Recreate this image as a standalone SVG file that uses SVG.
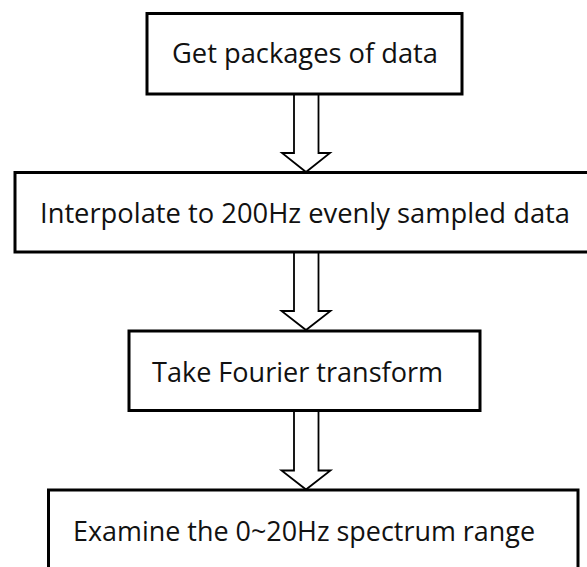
<svg xmlns="http://www.w3.org/2000/svg" width="587" height="567" viewBox="0 0 587 567">
<style>
.box{fill:#fff;stroke:#000;stroke-width:3}
.lbl{font-family:"Open Sans","Liberation Sans",sans-serif;font-size:28px;fill:#111}
.arr{fill:#fff;stroke:#000;stroke-width:1.8;stroke-linejoin:miter}
</style>
<rect width="587" height="567" fill="#fff"/>
<g id="connectors">
<path class="arr" d="M294,94 V153 H282 L306,172 L330,153 H318.5 V94"/>
<path class="arr" d="M294,252 V311 H281.5 L306,330 L330.5,311 H318.5 V252"/>
<path class="arr" d="M294,411 V470.5 H281.5 L306,489.5 L330.5,470.5 H318.5 V411"/>
</g>
<g id="n1">
<rect class="box" x="147" y="13.5" width="315" height="80.5"/>
<text class="lbl" x="172" y="63" textLength="266" lengthAdjust="spacingAndGlyphs">Get packages of data</text>
</g>
<g id="n2">
<rect class="box" x="15" y="172.5" width="580" height="79.5"/>
<text class="lbl" x="40" y="223" textLength="530" lengthAdjust="spacingAndGlyphs">Interpolate to 200Hz evenly sampled data</text>
</g>
<g id="n3">
<rect class="box" x="129" y="331" width="351" height="79.5"/>
<text class="lbl" x="152" y="382" textLength="291" lengthAdjust="spacingAndGlyphs">Take Fourier transform</text>
</g>
<g id="n4">
<rect class="box" x="48.5" y="490" width="529.5" height="90"/>
<text class="lbl" x="73" y="541" textLength="462" lengthAdjust="spacingAndGlyphs">Examine the 0~20Hz spectrum range</text>
</g>
</svg>
